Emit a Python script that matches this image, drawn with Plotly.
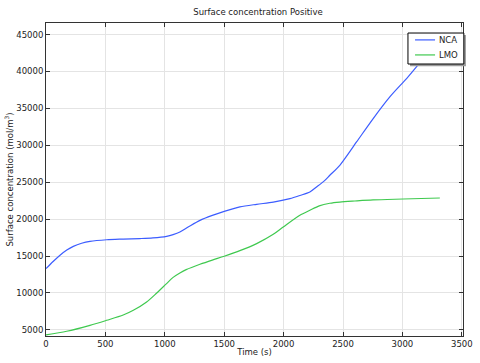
import plotly.graph_objects as go

nca_t = [0, 60, 118, 175, 230, 300, 370, 511, 650, 791, 900, 1015, 1070, 1127, 1200, 1296, 1400, 1500, 1632, 1773, 1913, 2053, 2137, 2221, 2277, 2347, 2389, 2473, 2614, 2754, 2894, 3035, 3118, 3250]
nca_c = [13290, 14250, 15100, 15800, 16300, 16720, 16980, 17200, 17290, 17360, 17450, 17670, 17900, 18250, 18950, 19830, 20500, 21050, 21650, 22000, 22300, 22780, 23200, 23670, 24350, 25250, 25935, 27290, 30450, 33620, 36550, 39040, 40610, 43400]

lmo_t = [0, 174, 370, 511, 650, 735, 847, 930, 1015, 1070, 1127, 1180, 1296, 1400, 1500, 1632, 1773, 1913, 1997, 2137, 2221, 2300, 2389, 2473, 2600, 2753, 3006, 3315]
lmo_c = [4300, 4800, 5610, 6290, 7000, 7640, 8770, 9950, 11260, 12100, 12700, 13150, 13880, 14450, 14960, 15720, 16680, 17940, 18930, 20520, 21190, 21800, 22150, 22310, 22450, 22600, 22720, 22860]

x_ticks = [0, 500, 1000, 1500, 2000, 2500, 3000, 3500]
y_ticks = [5000, 10000, 15000, 20000, 25000, 30000, 35000, 40000, 45000]

font = "DejaVu Sans"
fs = 8.5
txt = "#222222"
blue = "#3c5dff"
green = "#3fc94f"

fig = go.Figure()
fig.add_trace(go.Scatter(x=nca_t, y=nca_c, mode="lines", name="NCA", showlegend=False,
                         line=dict(color=blue, width=1.2, shape="spline", smoothing=0.8)))
fig.add_trace(go.Scatter(x=lmo_t, y=lmo_c, mode="lines", name="LMO", showlegend=False,
                         line=dict(color=green, width=1.2, shape="spline", smoothing=0.8)))

axis_common = dict(showgrid=True, gridcolor="#e4e4e4", gridwidth=1, zeroline=False,
                   showline=True, linecolor="#333333", linewidth=1, mirror="ticks",
                   ticks="inside", ticklen=4, tickcolor="#333333", automargin=False,
                   tickformat="d", tickfont=dict(family=font, size=fs, color=txt))

# custom legend box (paper coordinates)
shapes = [
    dict(type="rect", xref="paper", yref="paper", x0=0.873, x1=1.007, y0=0.862, y1=0.962,
         fillcolor="#9a9a9a", line=dict(width=0), layer="above"),
    dict(type="rect", xref="paper", yref="paper", x0=0.868, x1=1.002, y0=0.869, y1=0.968,
         fillcolor="white", line=dict(color="black", width=1), layer="above"),
    dict(type="line", xref="paper", yref="paper", x0=0.885, x1=0.933, y0=0.946, y1=0.946,
         line=dict(color=blue, width=1.2), layer="above"),
    dict(type="line", xref="paper", yref="paper", x0=0.885, x1=0.933, y0=0.898, y1=0.898,
         line=dict(color=green, width=1.2), layer="above"),
]
annotations = [
    dict(text="NCA", xref="paper", yref="paper", x=0.938, y=0.946, xanchor="left", yanchor="middle",
         showarrow=False, font=dict(family=font, size=fs, color=txt)),
    dict(text="LMO", xref="paper", yref="paper", x=0.938, y=0.898, xanchor="left", yanchor="middle",
         showarrow=False, font=dict(family=font, size=fs, color=txt)),
]

fig.update_layout(
    width=480, height=363,
    margin=dict(l=46, r=17, t=23, b=27),
    paper_bgcolor="white", plot_bgcolor="white",
    title=dict(text="Surface concentration Positive", x=0.5375, xanchor="center",
               y=0.975, yanchor="top", font=dict(family=font, size=fs, color=txt)),
    xaxis=dict(range=[0, 3510], tickvals=x_ticks, **axis_common,
               title=dict(text="Time (s)", font=dict(family=font, size=fs, color=txt), standoff=0)),
    yaxis=dict(range=[4160, 46570], tickvals=y_ticks, **axis_common,
               title=dict(text="Surface concentration (mol/m<sup>3</sup>)",
                          font=dict(family=font, size=fs, color=txt), standoff=1)),
    shapes=shapes,
    annotations=annotations,
    showlegend=False,
    hovermode=False,
)
fig.write_html("out.html", config={"displayModeBar": False, "staticPlot": True},
               post_script="document.body.style.margin='0';document.body.style.padding='0';document.body.style.overflow='hidden';")
